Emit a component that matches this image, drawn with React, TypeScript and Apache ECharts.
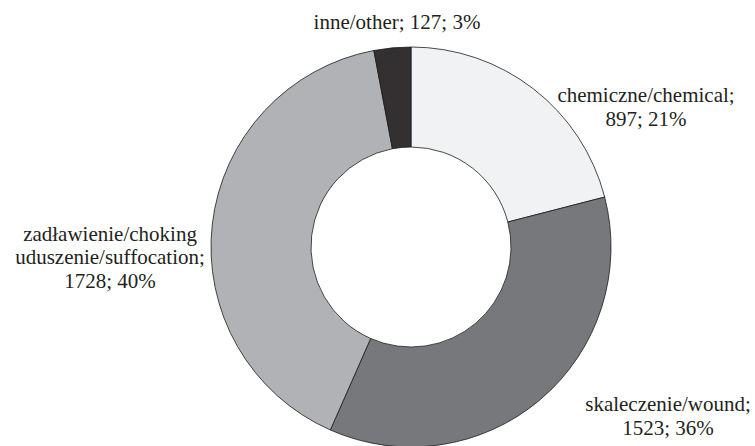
import React, { useEffect, useRef } from "react";
import * as echarts from "echarts";

const categories = [
  "chemiczne/chemical",
  "skaleczenie/wound",
  "zadławienie/choking\nuduszenie/suffocation",
  "inne/other",
];
const values = [897, 1523, 1728, 127];
const colors = ["#f1f2f4", "#77787b", "#b1b2b5", "#323031"];
const labelSeparators = [";\n", ";\n", ";\n", "; "];
const labelAnchors = [
  { x: 646, y: 107 },
  { x: 668, y: 416 },
  { x: 110, y: 257 },
  { x: 397, y: 22 },
];

const FONT = "Liberation Serif";

export default function App() {
  const ref = useRef<HTMLDivElement>(null);
  useEffect(() => {
    const chart = echarts.init(ref.current!, null, { renderer: "svg" });
    chart.setOption({
      animation: false,
      backgroundColor: "#ffffff",
      textStyle: { fontFamily: FONT },
      series: [
        {
          type: "pie",
          center: [411, 247],
          radius: [100, 200],
          startAngle: 90,
          clockwise: true,
          avoidLabelOverlap: false,
          percentPrecision: 0,
          itemStyle: { borderColor: "#1a1a1a", borderWidth: 0.8 },
          label: {
            show: true,
            position: "outside",
            fontFamily: FONT,
            fontSize: 21,
            lineHeight: 23.5,
            color: "#231f20",
            align: "center",
            formatter: (p: any) =>
              `${p.name}${labelSeparators[p.dataIndex]}${p.value}; ${p.percent}%`,
          },
          labelLine: { show: false },
          labelLayout: (params: any) => ({
            x: labelAnchors[params.dataIndex].x,
            y: labelAnchors[params.dataIndex].y,
            align: "center",
            verticalAlign: "middle",
          }),
          emphasis: { disabled: true },
          data: categories.map((c, i) => ({
            name: c,
            value: values[i],
            itemStyle: { color: colors[i] },
          })),
        },
      ],
    });
    return () => chart.dispose();
  }, []);
  return (
    <div
      ref={ref}
      style={{ position: "absolute", left: 0, top: 0, width: 755, height: 446 }}
    />
  );
}
